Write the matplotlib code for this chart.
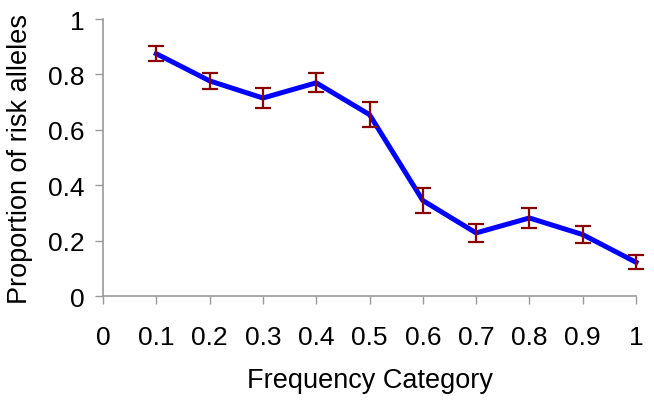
import matplotlib
matplotlib.use("Agg")
import matplotlib.pyplot as plt

plt.rcParams['font.family'] = ['Liberation Sans', 'DejaVu Sans']

categories = [0.1, 0.2, 0.3, 0.4, 0.5, 0.6, 0.7, 0.8, 0.9, 1.0]
proportion = [0.875, 0.777, 0.715, 0.770, 0.655, 0.345, 0.228, 0.282, 0.222, 0.122]
errors = [0.027, 0.030, 0.037, 0.034, 0.045, 0.045, 0.033, 0.037, 0.030, 0.026]
xticks = [0, 0.1, 0.2, 0.3, 0.4, 0.5, 0.6, 0.7, 0.8, 0.9, 1.0]
xticklabels = ['0', '0.1', '0.2', '0.3', '0.4', '0.5', '0.6', '0.7', '0.8', '0.9', '1']
yticks = [0, 0.2, 0.4, 0.6, 0.8, 1.0]
yticklabels = ['0', '0.2', '0.4', '0.6', '0.8', '1']

fig = plt.figure(figsize=(6.54, 4.02), dpi=100)
ax = fig.add_axes([0.1575, 0.261, 0.815, 0.689])

ax.plot(categories, proportion, color='#0000FF', lw=3.6, zorder=2, clip_on=False,
        solid_joinstyle='miter')
ax.errorbar(categories, proportion, yerr=errors, fmt='none', ecolor='#8B0000',
            elinewidth=1.6, capsize=5.5, capthick=1.6, zorder=3, clip_on=False)

ax.set_xlim(0, 1)
ax.set_ylim(0, 1)
ax.set_xticks(xticks)
ax.set_xticklabels(xticklabels)
ax.set_yticks(yticks)
ax.set_yticklabels(yticklabels)

for s in ['top', 'right']:
    ax.spines[s].set_visible(False)
for s in ['left', 'bottom']:
    ax.spines[s].set_color('#999999')
    ax.spines[s].set_linewidth(1.2)
ax.tick_params(axis='both', direction='out', length=6, width=1.0, color='#999999',
               labelsize=19, labelcolor='black')
ax.tick_params(axis='x', pad=15)
ax.tick_params(axis='y', pad=7)

ax.set_xlabel('Frequency Category', fontsize=19.5, labelpad=13)
ax.set_ylabel('Proportion of risk alleles', fontsize=19.5, labelpad=11)

fig.savefig('out.png', dpi=100)
